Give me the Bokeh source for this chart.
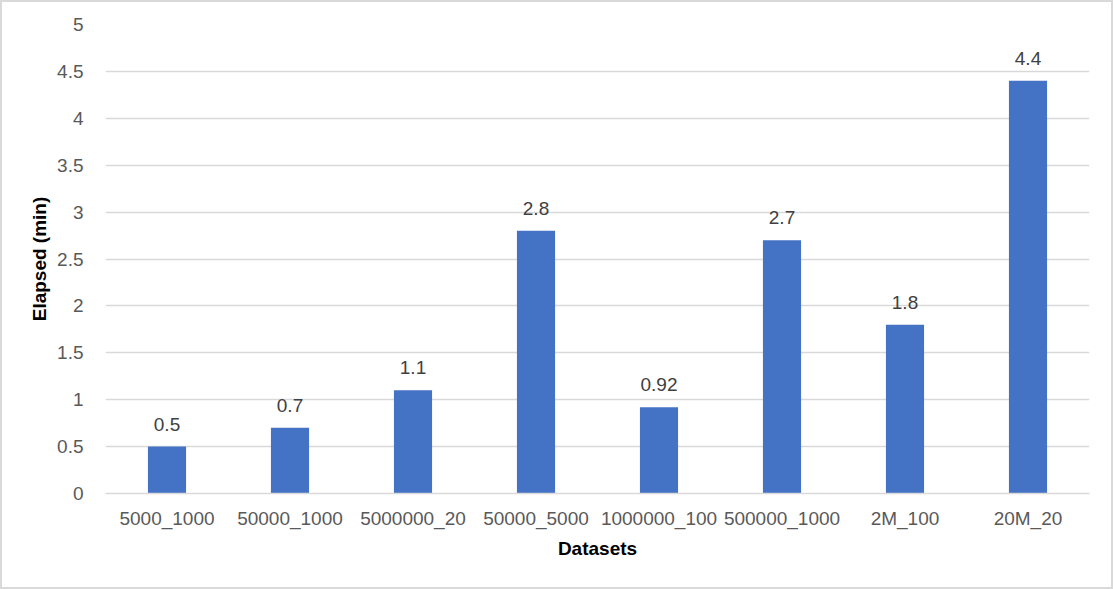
from bokeh.plotting import figure
from bokeh.models import ColumnDataSource, LabelSet, SingleIntervalTicker, Range1d
from bokeh.core.properties import value
from bokeh.embed import file_html
from bokeh.resources import INLINE

datasets = ["5000_1000", "50000_1000", "5000000_20", "50000_5000", "1000000_100", "500000_1000", "2M_100", "20M_20"]
elapsed = [0.5, 0.7, 1.1, 2.8, 0.92, 2.7, 1.8, 4.4]
labels = ["0.5", "0.7", "1.1", "2.8", "0.92", "2.7", "1.8", "4.4"]

src = ColumnDataSource(dict(x=datasets, y=elapsed, lab=labels))

p = figure(x_range=datasets, y_range=Range1d(0, 5), width=1113, height=589,
           output_backend="svg", toolbar_location=None,
           min_border_left=105, min_border_right=24, min_border_top=24, min_border_bottom=96)
p.border_fill_color = None
p.background_fill_color = None
p.styles = {"box-shadow": "inset 0 0 0 2px #d9d9d9", "background-color": "white"}

p.vbar(x="x", top="y", width=0.31, source=src, color="#4472C4", line_color=None)

lbl = LabelSet(x="x", y="y", text="lab", source=src, text_align="center", text_baseline="bottom",
               y_offset=16, text_font=value("Liberation Sans"), text_font_size="19px", text_color="#404040")
p.add_layout(lbl)

p.outline_line_color = None
p.xgrid.grid_line_color = None
p.ygrid.grid_line_color = "#d9d9d9"
p.ygrid.grid_line_width = 1.5
p.yaxis.ticker = SingleIntervalTicker(interval=0.5)
p.yaxis.axis_line_color = None
p.yaxis.major_tick_line_color = None
p.yaxis.minor_tick_line_color = None
p.xaxis.axis_line_color = "#d9d9d9"
p.xaxis.axis_line_width = 1.5
p.xaxis.major_tick_line_color = None
p.xaxis.minor_tick_line_color = None

for ax in (p.xaxis, p.yaxis):
    ax.major_label_text_font = "Liberation Sans"
    ax.major_label_text_font_size = "19px"
    ax.major_label_text_color = "#595959"
    ax.axis_label_text_font = "Liberation Sans"
    ax.axis_label_text_font_size = "19px"
    ax.axis_label_text_font_style = "bold"
    ax.axis_label_text_color = "#000000"

p.yaxis.major_label_standoff = 16
p.xaxis.major_label_standoff = 8
p.yaxis.axis_label = "Elapsed (min)"
p.xaxis.axis_label = "Datasets"
p.yaxis.axis_label_standoff = 4
p.xaxis.axis_label_standoff = 6

open("out.html", "w").write(file_html(p, INLINE))
